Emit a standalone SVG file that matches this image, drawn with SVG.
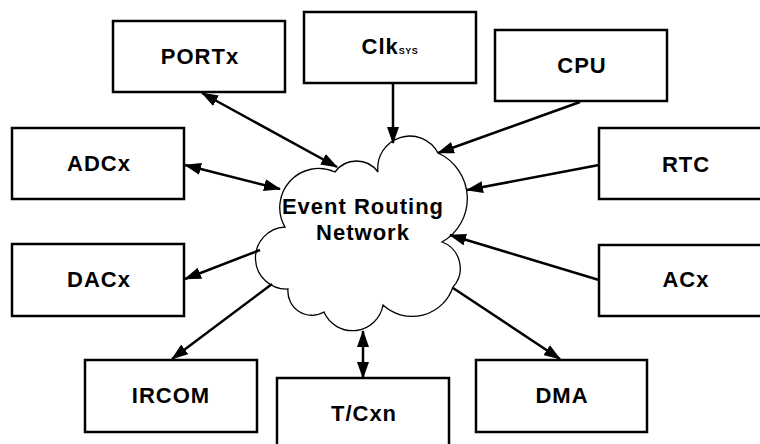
<svg xmlns="http://www.w3.org/2000/svg" width="760" height="444" viewBox="0 0 760 444">
<style>
.box{fill:#fff;stroke:#000;stroke-width:2.5}
.lbl{font-family:"Liberation Sans",Arial,sans-serif;font-weight:bold;font-size:22px;letter-spacing:1px;text-anchor:middle;fill:#000}
.cn{stroke:#000;stroke-width:2.5;fill:none}
.one{marker-end:url(#ah)}
.two{marker-start:url(#ah);marker-end:url(#ah)}
</style>
<defs>
<marker id="ah" markerUnits="userSpaceOnUse" markerWidth="17" markerHeight="12" refX="16" refY="6" orient="auto-start-reverse">
<path d="M0,0 L17,6 L0,12 z" fill="#000"/>
</marker>
</defs>
<rect width="760" height="444" fill="#fff"/>
<g id="cloud">
<path d="M335,172 A26.5,26.5 0 0 1 378,172 A32,32 0 0 1 438,153 A50,50 0 0 1 442,242 A28,28 0 0 1 453,287 A43,43 0 0 1 383,305 A31,31 0 0 1 324,312 A24,24 0 0 1 288,289 A31,31 0 0 1 285,227 A39,39 0 0 1 335,172 Z" fill="#fff" stroke="#000" stroke-width="1.3"/>
<text class="lbl" x="363" y="214">Event Routing</text>
<text class="lbl" x="363" y="240">Network</text>
</g>
<g id="connectors">
<line class="cn two" x1="202" y1="93" x2="337" y2="167"/>
<line class="cn one" x1="393" y1="83" x2="393" y2="143"/>
<line class="cn one" x1="580" y1="102" x2="438" y2="153"/>
<line class="cn two" x1="185" y1="165" x2="280" y2="189"/>
<line class="cn one" x1="599" y1="165" x2="467" y2="190"/>
<line class="cn one" x1="260" y1="250" x2="185" y2="279"/>
<line class="cn one" x1="599" y1="280" x2="450" y2="235"/>
<line class="cn one" x1="272" y1="284" x2="172" y2="359"/>
<line class="cn two" x1="363" y1="331" x2="363" y2="378"/>
<line class="cn one" x1="453" y1="288" x2="560" y2="359"/>
</g>
<g id="portx"><rect class="box" x="113" y="21" width="172" height="71"/><text class="lbl" x="200" y="64">PORTx</text></g>
<g id="clksys"><rect class="box" x="304" y="12" width="172" height="71"/><text class="lbl" x="390" y="54">Clk<tspan font-size="9" letter-spacing="0.5">SYS</tspan></text></g>
<g id="cpu"><rect class="box" x="495" y="30" width="172" height="71"/><text class="lbl" x="582" y="73">CPU</text></g>
<g id="adcx"><rect class="box" x="12" y="128" width="172" height="71"/><text class="lbl" x="99" y="171">ADCx</text></g>
<g id="rtc"><rect class="box" x="599" y="128" width="172" height="71"/><text class="lbl" x="686" y="172">RTC</text></g>
<g id="dacx"><rect class="box" x="12" y="244" width="172" height="72"/><text class="lbl" x="99" y="287">DACx</text></g>
<g id="acx"><rect class="box" x="599" y="245" width="172" height="71"/><text class="lbl" x="686" y="287">ACx</text></g>
<g id="ircom"><rect class="box" x="85" y="360" width="172" height="72"/><text class="lbl" x="171" y="403">IRCOM</text></g>
<g id="tcxn"><rect class="box" x="277" y="378" width="172" height="80"/><text class="lbl" x="364" y="421">T/Cxn</text></g>
<g id="dma"><rect class="box" x="476" y="360" width="171" height="72"/><text class="lbl" x="562" y="403">DMA</text></g>
</svg>
